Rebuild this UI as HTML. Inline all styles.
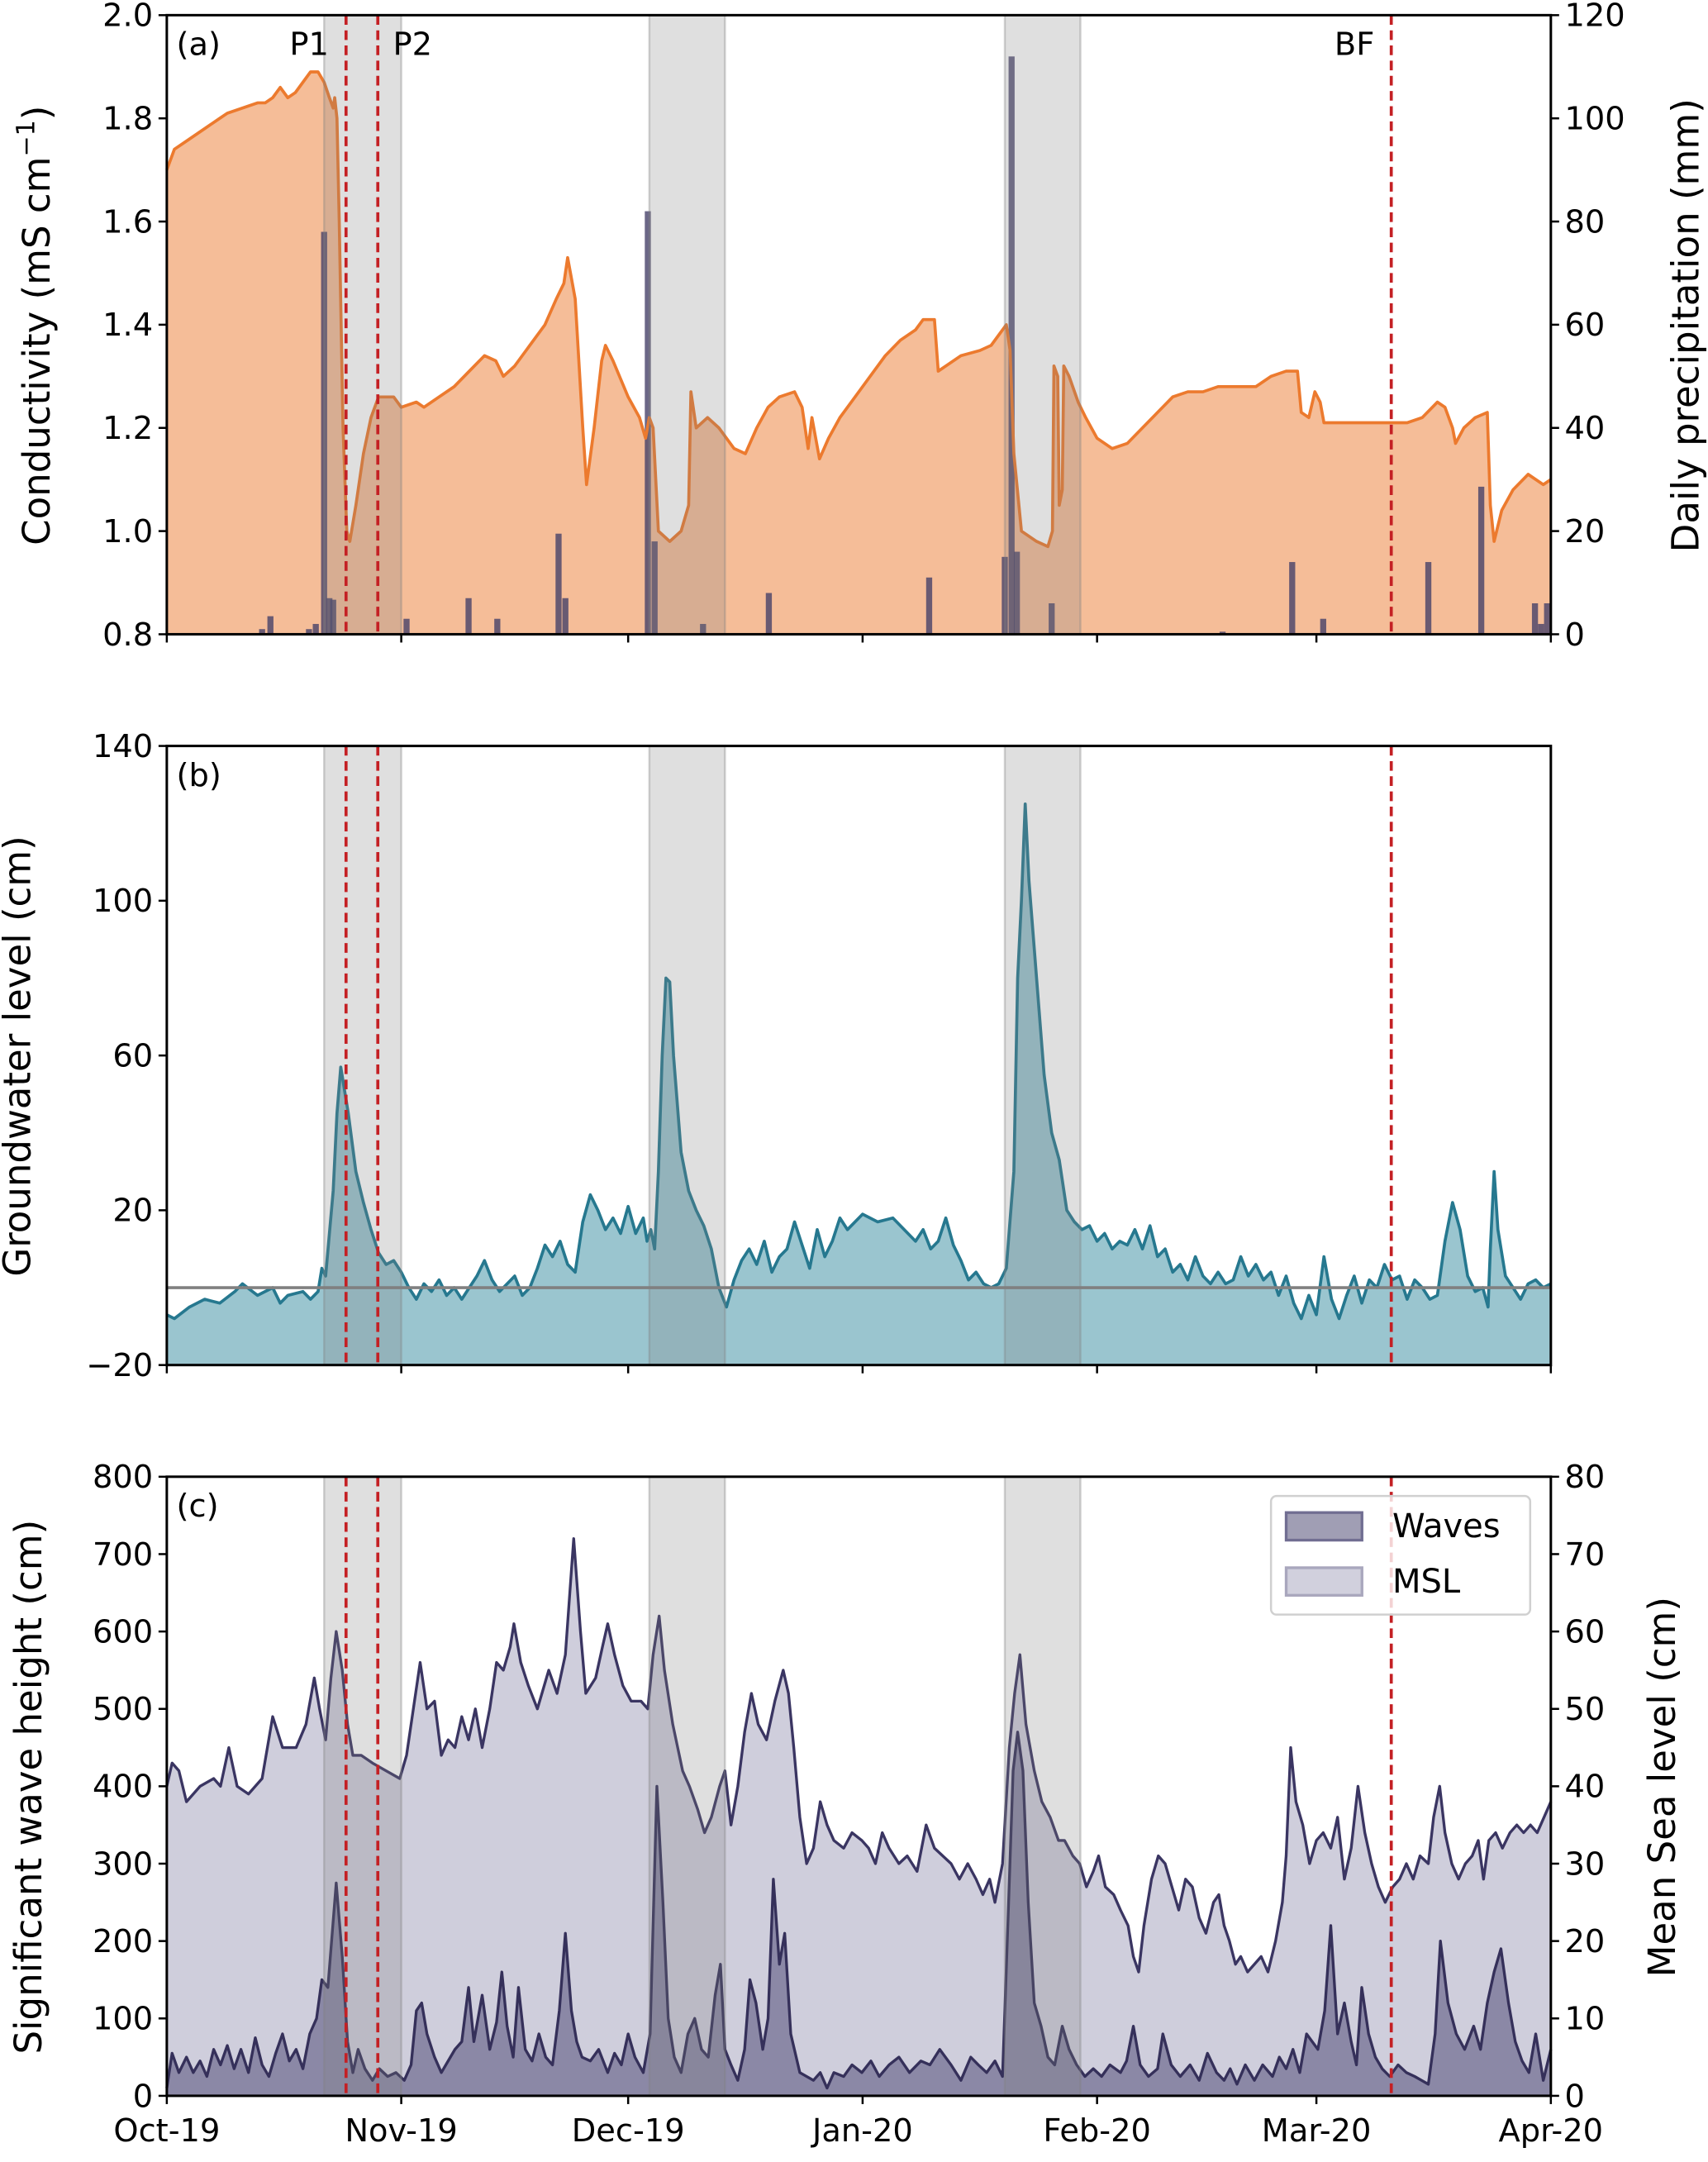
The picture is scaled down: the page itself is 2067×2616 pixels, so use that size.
<!DOCTYPE html>
<html><head><meta charset="utf-8"><style>
html,body{margin:0;padding:0;background:#fff;}
svg{display:block;font-family:"DejaVu Sans","Liberation Sans",sans-serif;}
</style></head><body>
<svg id="chart" xmlns="http://www.w3.org/2000/svg" width="2067" height="2616" viewBox="0 0 1239 1568" preserveAspectRatio="none"></svg>
<script>
// ---------- data ----------
const monthLabels = ["Oct-19","Nov-19","Dec-19","Jan-20","Feb-20","Mar-20","Apr-20"];
const monthDays = [0,31,61,92,123,152,183];
const eventBands = [[20.8,31],[63.8,73.8],[110.8,120.8]];
const eventLines = [23.7,27.9,161.9];

const condDays = [0,1,3,5,7,8,10,12,13,14,15,16,17,18,19,20,20.8,21.5,22.0,22.2,22.5,22.8,23.3,23.8,24.2,25,26,27,28,30,31,33,34,36,38,40,42,43.5,44.5,46,48,50,51.5,52.5,53,54,55,55.5,56.5,57.5,58,59,61,62.5,63.3,63.8,64.3,65,66.5,68,69,69.3,70,71.5,73,75,76.5,78,79.5,81,83,84,84.8,85.3,86.3,87.5,89,91,93,95,97,99,100,101.5,102,103,105,107.5,109,110,111,111.5,112,113,115,116.5,117.1,117.3,117.8,118.0,118.4,118.6,119.3,120.5,121.5,123,125,127,129,131,133,135,137,139,141,144,146,148,149.5,150,151,151.8,152.5,153,155,158,161,164,166,168,169,170,170.4,171.5,173,174.6,175,175.5,176.5,178,180,182,183];
const condVals = [1.70,1.74,1.76,1.78,1.80,1.81,1.82,1.83,1.83,1.84,1.86,1.84,1.85,1.87,1.89,1.89,1.87,1.84,1.82,1.84,1.80,1.60,1.20,1.00,0.98,1.05,1.15,1.22,1.26,1.26,1.24,1.25,1.24,1.26,1.28,1.31,1.34,1.33,1.30,1.32,1.36,1.40,1.45,1.48,1.53,1.45,1.20,1.09,1.20,1.33,1.36,1.33,1.26,1.22,1.18,1.22,1.20,1.00,0.98,1.00,1.05,1.27,1.20,1.22,1.20,1.16,1.15,1.20,1.24,1.26,1.27,1.24,1.16,1.22,1.14,1.18,1.22,1.26,1.30,1.34,1.37,1.39,1.41,1.41,1.31,1.32,1.34,1.35,1.36,1.38,1.40,1.35,1.15,1.00,0.98,0.97,1.00,1.32,1.30,1.05,1.08,1.32,1.30,1.25,1.22,1.18,1.16,1.17,1.20,1.23,1.26,1.27,1.27,1.28,1.28,1.28,1.30,1.31,1.31,1.23,1.22,1.27,1.25,1.21,1.21,1.21,1.21,1.21,1.22,1.25,1.24,1.20,1.17,1.20,1.22,1.23,1.05,0.98,1.04,1.08,1.11,1.09,1.10];

const rainDays = [12.6,13.7,18.8,19.7,20.8,21.5,22.0,31.7,39.9,43.7,51.8,52.7,63.6,64.5,70.9,79.6,100.8,110.8,111.7,112.4,117.0,139.6,148.8,152.9,166.8,173.8,180.9,181.7,182.5];
const rainVals = [1,3.5,1,2,78,7,6.7,3,7,3,19.5,7,82,18,2,8,11,15,112,16,6,0.5,14,3,14,28.6,6,2,6];

const gwDays = [0,1,3,5,7,9,10,12,14,15,16,18,19,20,20.5,21,22,22.5,23,24,25,26,27,28,29,30,31,32,33,34,35,36,37,38,39,40,41,42,43,44,45,46,47,48,49,50,51,52,53,54,55,56,57,58,59,60,61,62,63,63.5,64,64.5,65,65.5,66,66.5,67,68,69,70,71,72,73,74,75,76,77,78,79,80,81,82,83,84,85,86,87,88,89,90,92,94,96,98,99,100,101,102,103,104,105,106,107,108,109,110,111,112,112.5,113,113.5,114,115,116,117,118,119,120,121,122,123,124,125,126,127,128,129,130,131,132,133,134,135,136,137,138,139,140,141,142,143,144,145,146,147,148,149,150,151,152,153,154,155,156,157,158,159,160,161,162,163,164,165,166,167,168,169,170,171,172,173,174,174.7,175,175.5,176,177,178,179,180,181,182,183];
const gwVals = [-7,-8,-5,-3,-4,-1,1,-2,0,-4,-2,-1,-3,-1,5,3,25,45,57,45,30,22,15,9,6,7,4,0,-3,1,-1,2,-2,0,-3,0,3,7,2,-1,1,3,-2,0,5,11,8,12,6,4,17,24,20,15,18,14,21,14,18,12,15,10,30,60,80,79,60,35,25,20,16,10,0,-5,2,7,10,6,12,4,8,10,17,11,5,15,8,12,18,15,19,17,18,14,12,15,10,12,18,11,7,2,4,1,0,1,5,30,80,100,125,105,80,55,40,33,20,17,15,16,12,14,10,12,11,15,10,16,8,10,4,6,2,8,3,1,4,1,2,8,3,6,2,4,-2,3,-4,-8,-2,-7,8,-3,-8,-2,3,-4,2,0,6,2,3,-3,2,0,-3,-2,12,22,15,3,-1,0,-5,10,30,15,3,0,-3,1,2,0,1];

const mslDays = [0,0.7,1.6,2.6,4.4,6.2,7.1,8.2,9.3,10.8,12.6,14.0,15.3,17.1,18.4,19.5,20.2,21.0,21.7,22.4,23.2,23.9,24.6,25.7,27.2,29.0,30.8,31.7,32.6,33.5,34.4,35.4,36.3,37.2,38.1,39.0,39.9,40.8,41.7,42.7,43.6,44.5,45.4,45.9,46.8,47.8,49.0,50.5,51.6,52.7,53.8,54.7,55.4,56.7,57.6,58.3,59.2,60.3,61.4,62.7,63.6,64.3,65.1,65.8,66.9,68.2,69.1,70.2,71.1,72.0,73.1,73.8,74.6,75.5,76.4,77.3,78.2,79.3,80.4,81.5,82.2,82.9,83.7,84.6,85.5,86.4,87.3,88.2,89.5,90.6,91.9,92.8,93.7,94.6,95.5,96.8,97.9,99.2,100.4,101.5,102.6,103.7,104.8,105.9,107.0,107.9,108.8,109.5,110.5,111.4,112.1,112.8,113.6,114.7,115.7,116.8,117.9,118.7,119.8,120.7,121.6,122.5,123.2,124.1,125.2,126.1,127.1,127.8,128.5,129.2,130.2,131.1,132.0,132.9,133.8,134.7,135.6,136.5,137.4,138.4,139.1,139.8,140.5,141.3,142.0,142.9,143.8,144.7,145.6,146.6,147.5,148.0,148.6,149.3,150.2,151.1,152.0,152.9,153.9,154.8,155.7,156.6,157.5,158.4,159.3,160.2,161.1,162.1,163.0,163.9,164.8,165.7,166.8,167.5,168.3,169.0,169.9,170.8,171.7,172.6,173.4,174.1,174.8,175.7,176.6,177.6,178.5,179.4,180.3,181.2,182.1,183];
const mslVals = [40,43,42,38,40,41,40,45,40,39,41,49,45,45,48,54,50,46,54,60,55,48,44,44,43,42,41,44,50,56,50,51,44,46,45,49,46,50,45,50,56,55,58,61,56,53,50,55,52,57,72,60,52,54,58,61,57,53,51,51,50,57,62,55,48,42,40,37,34,36,40,42,35,40,47,52,48,46,51,55,52,45,36,30,32,38,35,33,32,34,33,32,30,34,32,30,31,29,35,32,31,30,28,30,28,26,28,25,30,45,52,57,48,42,38,36,33,33,31,30,27,29,31,27,26,24,22,18,16,22,28,31,30,27,24,28,27,23,21,25,26,22,20,17,18,16,17,18,16,20,25,31,45,38,35,30,33,34,32,36,28,32,40,34,30,27,25,27,28,30,28,31,30,36,40,34,30,28,30,31,33,28,33,34,32,34,35,34,35,34,36,38];

const waveDays = [0,0.7,1.6,2.6,3.5,4.4,5.3,6.2,7.1,8.0,8.9,9.8,10.8,11.7,12.6,13.5,14.4,15.3,16.2,17.1,18.0,18.9,19.8,20.5,21.3,22.4,23.2,23.9,24.6,25.3,26.2,27.2,28.1,29.2,30.3,31.4,32.3,33.0,33.7,34.4,35.4,36.3,37.2,38.1,39.0,39.9,40.6,41.7,42.7,43.6,44.3,45.0,45.8,46.5,47.4,48.3,49.2,50.1,51.0,51.9,52.7,53.5,54.2,54.9,56.0,57.1,58.3,59.2,60.1,61.0,61.9,63.0,63.9,64.8,65.6,66.3,67.1,68.0,68.9,69.8,70.7,71.6,72.5,73.2,73.8,74.6,75.5,76.4,77.1,77.9,78.8,79.5,80.2,81.0,81.7,82.5,83.7,85.5,86.4,87.3,88.2,89.5,90.6,91.9,93.1,94.2,95.5,96.8,98.2,99.7,100.9,102.2,103.7,105.0,106.3,107.3,108.4,109.5,110.5,111.2,111.9,112.5,113.2,113.9,114.7,115.6,116.5,117.4,118.4,119.3,120.3,121.4,122.5,123.6,124.7,126.1,126.9,127.8,128.7,129.8,131.0,131.7,132.8,134.0,135.3,136.5,137.6,138.8,139.8,140.6,141.5,142.6,143.8,144.9,146.2,147.1,148.0,148.9,149.8,150.7,152.2,153.1,153.9,154.8,155.7,156.6,157.3,158.0,158.9,159.8,160.7,161.7,162.8,163.9,165.0,165.9,166.8,167.7,168.4,169.4,170.5,171.6,172.8,173.7,174.6,175.5,176.4,177.4,178.3,179.2,180.1,181.0,182.0,183];
const waveVals = [10,55,30,50,30,45,25,60,40,65,35,60,30,75,40,25,55,80,45,60,35,80,100,150,140,275,180,70,30,60,35,20,35,25,30,20,40,110,120,80,50,30,45,60,70,140,70,130,60,95,160,90,50,140,60,45,80,50,40,110,210,110,70,50,45,60,30,55,40,80,50,30,80,400,250,100,50,30,80,100,60,50,130,170,60,40,20,60,150,120,60,100,280,170,210,80,30,20,30,10,30,25,40,30,45,25,40,50,30,45,40,60,40,20,50,40,30,45,25,220,420,470,420,250,120,90,50,40,90,60,40,25,35,25,40,30,45,90,40,25,35,80,40,25,40,20,55,30,20,35,15,40,20,40,25,50,35,60,30,80,60,110,220,80,120,70,40,140,80,50,35,25,40,30,25,20,15,80,200,120,80,60,90,60,120,160,190,120,70,45,30,80,20,60,130];

// ---------- helpers ----------
const NS="http://www.w3.org/2000/svg";
const svg=document.getElementById('chart');
function el(tag,attrs,parent,text){const e=document.createElementNS(NS,tag);for(const k in attrs)e.setAttribute(k,attrs[k]);if(text!==undefined)e.textContent=text;(parent||svg).appendChild(e);return e;}
const X0=121,X1=1125;
function xs(d){return X0+(X1-X0)*d/183;}
function lin(v0,v1,p0,p1){return v=>p0+(p1-p0)*(v-v0)/(v1-v0);}
function linePath(days,vals,ys){const n=Math.min(days.length,vals.length);let s='';for(let i=0;i<n;i++)s+=(i?'L':'M')+xs(days[i]).toFixed(2)+','+ys(vals[i]).toFixed(2);return s;}
function areaPath(days,vals,ys,base){const n=Math.min(days.length,vals.length);return linePath(days,vals,ys)+'L'+xs(days[n-1]).toFixed(2)+','+base+'L'+xs(days[0]).toFixed(2)+','+base+'Z';}

const panels=[{top:11,bot:460,key:'a'},{top:541,bot:990,key:'b'},{top:1071,bot:1520,key:'c'}];

function decorate(p,g){
  eventBands.forEach(b=>{
    const r=el('rect',{x:xs(b[0]),y:p.top,width:xs(b[1])-xs(b[0]),height:p.bot-p.top,fill:'rgba(128,128,128,0.25)',stroke:'rgba(128,128,128,0.35)','stroke-width':1.5},g);
    
    
  });
  eventLines.forEach(d=>{
    const l=el('line',{x1:xs(d),x2:xs(d),y1:p.top,y2:p.bot,stroke:'#c42024','stroke-width':2.2,'stroke-dasharray':'7,4'},g);
    
    
  });
}
function frame(p,g){
  const f=el('rect',{x:X0,y:p.top,width:X1-X0,height:p.bot-p.top,fill:'none',stroke:'#000','stroke-width':1.8},g);
  
  
}
function leftTicks(p,g,ticks,fmt,ys){
  ticks.forEach(t=>{const y=ys(t);
    el('line',{x1:X0-6,x2:X0,y1:y,y2:y,stroke:'#000','stroke-width':1.5},g);
    const tx=el('text',{x:X0-10,y:y+8,'text-anchor':'end','font-size':23},g,fmt(t));
    
    
  });
}
function rightTicks(p,g,ticks,fmt,ys){
  ticks.forEach(t=>{const y=ys(t);
    el('line',{x1:X1,x2:X1+6,y1:y,y2:y,stroke:'#000','stroke-width':1.5},g);
    const tx=el('text',{x:X1+10,y:y+8,'text-anchor':'start','font-size':23},g,fmt(t));
    
    
  });
}
function bottomTicks(p,g,labels){
  monthDays.forEach((d,i)=>{const x=xs(d);
    el('line',{x1:x,x2:x,y1:p.bot,y2:p.bot+6,stroke:'#000','stroke-width':1.5},g);
    if(labels){const tx=el('text',{x:x,y:p.bot+33,'text-anchor':'middle','font-size':23},g,monthLabels[i]);
      
      }
  });
}
function vlabel(x,y,txt,name,g){
  const t=el('text',{x:x,y:y,'text-anchor':'middle','font-size':27,transform:'rotate(-90 '+x+' '+y+')'},g);
  
  
  return t;
}

// ---------- panel a ----------
{
  const p=panels[0];const g=el('g',{});
  
  
  const ys=lin(0.8,2.0,p.bot,p.top), yr=lin(0,120,p.bot,p.top);
  const a=el('path',{d:areaPath(condDays,condVals,ys,p.bot),fill:'#f5bd98',stroke:'none'},g);
  
  
  const bw=(X1-X0)/183*0.8;
  rainDays.forEach((d,i)=>{
    const b=el('rect',{x:xs(d)-bw/2,y:yr(rainVals[i]),width:bw,height:p.bot-yr(rainVals[i]),fill:'rgba(70,65,105,0.8)'},g);
    
    
  });
  const l=el('path',{d:linePath(condDays,condVals,ys),fill:'none',stroke:'#ec7a2e','stroke-width':2.2,'stroke-linejoin':'round'},g);
  
  
  decorate(p,g);frame(p,g);
  leftTicks(p,g,[0.8,1.0,1.2,1.4,1.6,1.8,2.0],t=>t.toFixed(1),ys);
  rightTicks(p,g,[0,20,40,60,80,100,120],t=>String(t),yr);
  bottomTicks(p,g,false);
  const t=vlabel(36,236,'',"y-axis-title-conductivity",g);
  el('tspan',{},t,'Conductivity (mS cm');el('tspan',{'font-size':18,dy:-11},t,'−1');el('tspan',{dy:11},t,')');
  vlabel(1232,236,'',"y2-axis-title-precipitation",g).textContent='Daily precipitation (mm)';
  [['(a)',128,'panel-label-a'],['P1',210,'event-label-p1'],['P2',285,'event-label-p2'],['BF',968,'event-label-bf']].forEach(s=>{
    const tx=el('text',{x:s[1],y:40,'font-size':23},g,s[0]);
    
    
  });
}
// ---------- panel b ----------
{
  const p=panels[1];const g=el('g',{});
  
  
  const ys=lin(-20,140,p.bot,p.top);
  const a=el('path',{d:areaPath(gwDays,gwVals,ys,p.bot),fill:'#9ac5cf'},g);
  
  
  const l=el('path',{d:linePath(gwDays,gwVals,ys),fill:'none',stroke:'#26788f','stroke-width':2.2,'stroke-linejoin':'round'},g);
  
  
  const z=el('line',{x1:X0,x2:X1,y1:ys(0),y2:ys(0),stroke:'#808080','stroke-width':2.2},g);
  
  
  decorate(p,g);frame(p,g);
  leftTicks(p,g,[-20,20,60,100,140],t=>t<0?'−'+Math.abs(t):String(t),ys);
  bottomTicks(p,g,false);
  vlabel(22,766,'',"y-axis-title-groundwater",g).textContent='Groundwater level (cm)';
  const tx=el('text',{x:128,y:570,'font-size':23},g,'(b)');
  
  
}
// ---------- panel c ----------
{
  const p=panels[2];const g=el('g',{});
  
  
  const yl=lin(0,800,p.bot,p.top), yr=lin(0,80,p.bot,p.top);
  const a=el('path',{d:areaPath(mslDays,mslVals,yr,p.bot),fill:'#cfcedc'},g);
  
  
  const l=el('path',{d:linePath(mslDays,mslVals,yr),fill:'none',stroke:'#3a3562','stroke-width':2,'stroke-linejoin':'round'},g);
  
  
  const a2=el('path',{d:areaPath(waveDays,waveVals,yl,p.bot),fill:'#8b88a6'},g);
  
  
  const l2=el('path',{d:linePath(waveDays,waveVals,yl),fill:'none',stroke:'#35305a','stroke-width':2,'stroke-linejoin':'round'},g);
  
  
  decorate(p,g);frame(p,g);
  leftTicks(p,g,[0,100,200,300,400,500,600,700,800],t=>String(t),yl);
  rightTicks(p,g,[0,10,20,30,40,50,60,70,80],t=>String(t),yr);
  bottomTicks(p,g,true);
  vlabel(30,1296,'',"y-axis-title-wave-height",g).textContent='Significant wave height (cm)';
  vlabel(1215,1296,'',"y2-axis-title-msl",g).textContent='Mean Sea level (cm)';
  const tx=el('text',{x:128,y:1100,'font-size':23},g,'(c)');
  
  
  const lg=el('g',{},g);
  
  
  el('rect',{x:922,y:1085,width:188,height:86,rx:4,fill:'rgba(255,255,255,0.8)',stroke:'#d0d0d0','stroke-width':1.5},lg);
  const e1=el('rect',{x:933,y:1097,width:55,height:20,fill:'#a09eb4',stroke:'#716e92','stroke-width':2},lg);
  
  
  const t1=el('text',{x:1010,y:1115,'font-size':24},lg,'Waves');
  
  
  const e2=el('rect',{x:933,y:1137,width:55,height:20,fill:'#d1d0dd',stroke:'#a9a7bd','stroke-width':2},lg);
  
  
  const t2=el('text',{x:1010,y:1155,'font-size':24},lg,'MSL');
  
  
}
</script>
</body></html>
